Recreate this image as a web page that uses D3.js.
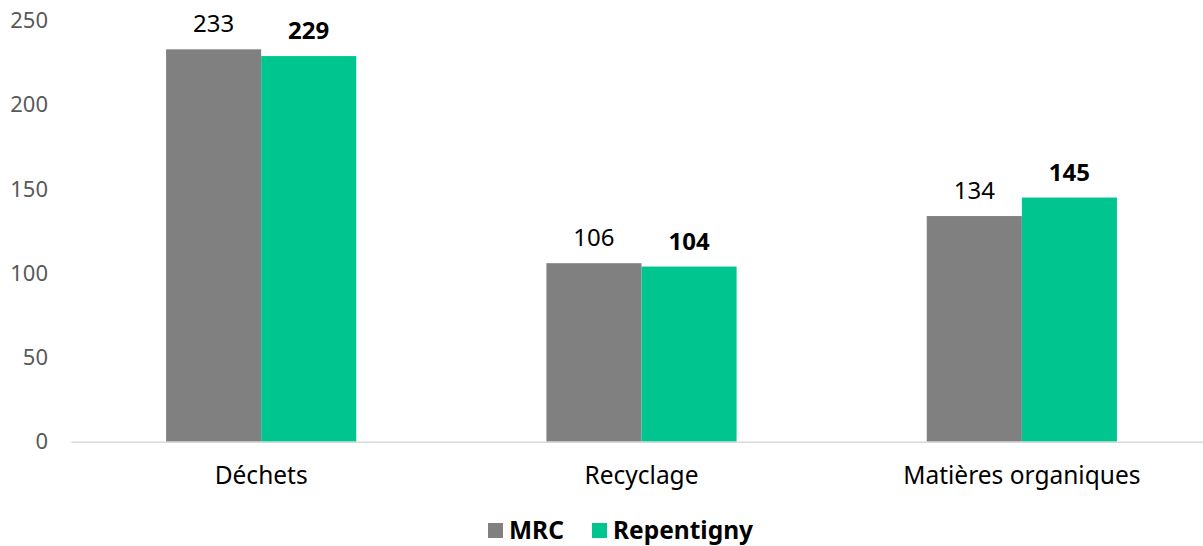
<!DOCTYPE html>
<html>
<head>
<meta charset="utf-8">
<script src="https://cdn.jsdelivr.net/npm/d3@7"></script>
<style>
  body { margin: 0; background: #fff; }
  svg { font-family: "Noto Sans", sans-serif; }
</style>
</head>
<body>
<div id="chart"></div>
<script>
// Data
var categories = ["Déchets", "Recyclage", "Matières organiques"];
var series = ["MRC", "Repentigny"];
var mrcValues = [233, 106, 134];
var repentignyValues = [229, 104, 145];
var yTickValues = [0, 50, 100, 150, 200, 250];

var colors = { "MRC": "#808080", "Repentigny": "#00c58e" };

var width = 1203, height = 546;
var margin = { top: 20.7, right: -9, bottom: 104.3, left: 71 };
var innerW = width - margin.left - margin.right;
var innerH = height - margin.top - margin.bottom;

var rows = categories.map(function (c, i) {
  return { cat: c, MRC: mrcValues[i], Repentigny: repentignyValues[i] };
});

const svg = d3.select("#chart")
  .append("svg")
  .attr("width", width)
  .attr("height", height);

const g = svg.append("g")
  .attr("transform", `translate(${margin.left},${margin.top})`);

const x0 = d3.scaleBand()
  .domain(categories)
  .range([0, innerW])
  .padding(0);

const x1 = d3.scaleBand()
  .domain(series)
  .range([x0.bandwidth() * 0.25, x0.bandwidth() * 0.75])
  .padding(0);

const y = d3.scaleLinear()
  .domain([0, 250])
  .range([innerH, 0]);

// y axis labels (no line, no ticks)
const yAxis = g.append("g")
  .call(d3.axisLeft(y).tickValues(yTickValues).tickSize(0).tickPadding(23));
yAxis.select(".domain").remove();
yAxis.selectAll("text")
  .attr("fill", "#595959")
  .style("font-size", "22px")
  .style("font-family", "Noto Sans");

// bars
const groups = g.selectAll(".grp")
  .data(rows)
  .enter()
  .append("g")
  .attr("transform", d => `translate(${x0(d.cat)},0)`);

groups.selectAll("rect")
  .data(d => series.map(s => ({ s: s, v: d[s] })))
  .enter()
  .append("rect")
  .attr("x", d => x1(d.s))
  .attr("y", d => y(d.v))
  .attr("width", x1.bandwidth())
  .attr("height", d => innerH - y(d.v))
  .attr("fill", d => colors[d.s]);

// value labels
groups.selectAll(".val")
  .data(d => series.map(s => ({ s: s, v: d[s] })))
  .enter()
  .append("text")
  .attr("x", d => x1(d.s) + x1.bandwidth() / 2)
  .attr("y", d => y(d.v) - 17)
  .attr("text-anchor", "middle")
  .attr("fill", "#000")
  .style("font-size", "24px")
  .style("font-weight", d => d.s === "Repentigny" ? "bold" : "normal")
  .text(d => d.v);

// x axis
const xAxis = g.append("g")
  .attr("transform", `translate(0,${innerH})`)
  .call(d3.axisBottom(x0).tickSize(0).tickPadding(25).tickSizeOuter(0));
xAxis.select(".domain").attr("stroke", "#d9d9d9").attr("stroke-width", 1.5);
xAxis.selectAll("text")
  .attr("fill", "#000")
  .style("font-size", "24.5px")
  .style("font-family", "Noto Sans");

// legend
const legend = svg.append("g");
var legendX = [488, 592];
series.forEach(function (s, i) {
  legend.append("rect")
    .attr("x", legendX[i])
    .attr("y", 523)
    .attr("width", 15)
    .attr("height", 15)
    .attr("fill", colors[s]);
  legend.append("text")
    .attr("x", legendX[i] + 21)
    .attr("y", 539)
    .style("font-size", "24.5px")
    .style("font-weight", "bold")
    .text(s);
});
</script>
</body>
</html>
